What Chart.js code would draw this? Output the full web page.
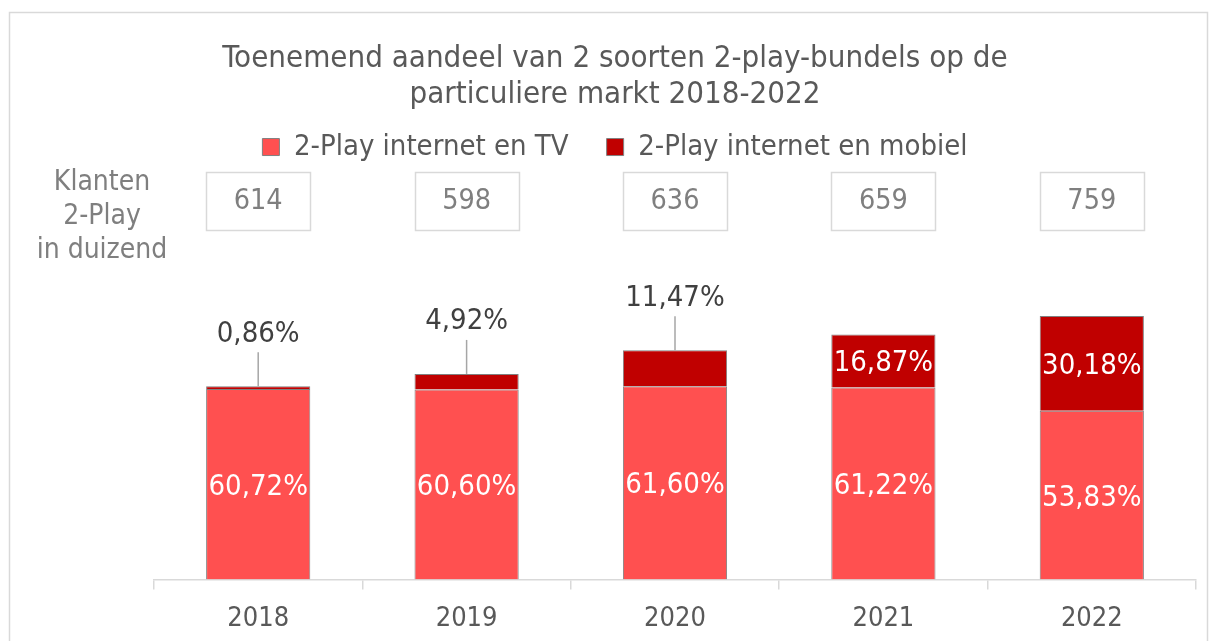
<!DOCTYPE html>
<html>
<head>
<meta charset="utf-8">
<script src="https://cdn.jsdelivr.net/npm/chart.js@4/dist/chart.umd.min.js"></script>
<style>
  html, body { margin: 0; padding: 0; background: #fff; }
  #wrap { width: 1214px; height: 641px; }
</style>
</head>
<body>
<div id="wrap"><canvas id="chart" width="1214" height="641"></canvas></div>
<script>
var FONT = '"DejaVu Sans Condensed", "DejaVu Sans", sans-serif';

var years = ['2018', '2019', '2020', '2021', '2022'];
var tvShare = [60.72, 60.60, 61.60, 61.22, 53.83];
var mobielShare = [0.86, 4.92, 11.47, 16.87, 30.18];
var klanten = [614, 598, 636, 659, 759];
var klantenLabel = ['Klanten', '2-Play', 'in duizend'];

function pct(v) {
    return v.toFixed(2).replace('.', ',') + '%';
}

// outer frame of the figure
var framePlugin = {
    id: 'frame',
    beforeDraw: function(chart) {
        var ctx = chart.ctx;
        ctx.save();
        ctx.strokeStyle = '#d9d9d9';
        ctx.lineWidth = 1.5;
        ctx.strokeRect(9.5, 12.5, 1198, 700);
        ctx.restore();
    }
};

// customer counts in boxes above each bar
var klantenPlugin = {
    id: 'klanten',
    afterDraw: function(chart) {
        var ctx = chart.ctx;
        var x = chart.scales.x;
        ctx.save();
        ctx.textAlign = 'center';
        ctx.textBaseline = 'middle';
        ctx.fillStyle = '#7f7f7f';
        ctx.font = '28px ' + FONT;
        klantenLabel.forEach(function(t, i) {
            ctx.fillText(t, 102, 183 + i * 34);
        });
        ctx.font = '28.5px ' + FONT;
        klanten.forEach(function(v, i) {
            var cx = x.getPixelForValue(i);
            ctx.strokeStyle = '#d9d9d9';
            ctx.lineWidth = 1.5;
            ctx.strokeRect(Math.round(cx - 52) + 0.5, 172.5, 104, 58);
            ctx.fillStyle = '#7f7f7f';
            ctx.fillText(String(v), cx, 202);
        });
        ctx.restore();
    }
};

// percentage labels, inside the segment or above it with a leader line
var labelPlugin = {
    id: 'segLabels',
    afterDatasetsDraw: function(chart) {
        var ctx = chart.ctx;
        ctx.save();
        ctx.textAlign = 'center';
        ctx.textBaseline = 'middle';
        ctx.font = '29px ' + FONT;
        chart.data.datasets.forEach(function(ds, di) {
            var meta = chart.getDatasetMeta(di);
            meta.data.forEach(function(bar, i) {
                var top = bar.y, base = bar.base;
                var h = base - top;
                var txt = pct(ds.data[i]);
                if (h > 45) {
                    ctx.fillStyle = '#ffffff';
                    ctx.fillText(txt, bar.x, (top + base) / 2 + 3);
                } else {
                    ctx.strokeStyle = '#a6a6a6';
                    ctx.lineWidth = 1.5;
                    ctx.beginPath();
                    ctx.moveTo(bar.x, top);
                    ctx.lineTo(bar.x, top - 34);
                    ctx.stroke();
                    ctx.fillStyle = '#404040';
                    ctx.fillText(txt, bar.x, top - 52);
                }
            });
        });
        ctx.restore();
    }
};

var ctx = document.getElementById('chart').getContext('2d');
var chart = new Chart(ctx, {
    type: 'bar',
    data: {
        labels: years,
        datasets: [{
            label: '2-Play internet en TV',
            data: tvShare,
            backgroundColor: '#ff5050',
            borderColor: '#808080',
            borderWidth: 1
        }, {
            label: '2-Play internet en mobiel',
            data: mobielShare,
            backgroundColor: '#c00000',
            borderColor: '#808080',
            borderWidth: 1
        }]
    },
    options: {
        responsive: false,
        animation: false,
        layout: {
            padding: { left: 34, right: 18, top: 0, bottom: -7 }
        },
        datasets: {
            bar: { barPercentage: 0.5, categoryPercentage: 1 }
        },
        scales: {
            x: {
                stacked: true,
                grid: {
                    offset: true,
                    drawOnChartArea: false,
                    color: '#d9d9d9',
                    lineWidth: 1.5,
                    tickLength: 10
                },
                border: { color: '#d9d9d9', width: 1.5 },
                ticks: {
                    color: '#595959',
                    font: { family: FONT, size: 27 },
                    padding: 13
                }
            },
            y: {
                stacked: true,
                display: true,
                min: 0,
                max: 130,
                grid: { display: false },
                border: { display: false },
                ticks: { display: false },
                afterFit: function(scale) { scale.width = 120; }
            }
        },
        plugins: {
            title: {
                display: true,
                text: ['Toenemend aandeel van 2 soorten 2-play-bundels op de', 'particuliere markt 2018-2022'],
                color: '#595959',
                font: { family: FONT, size: 31, weight: 'normal', lineHeight: 1.17 },
                padding: { top: 41, bottom: -19 }
            },
            legend: {
                display: true,
                labels: {
                    color: '#595959',
                    font: { family: FONT, size: 29 },
                    boxWidth: 17,
                    boxHeight: 17,
                    padding: 38
                }
            },
            tooltip: { enabled: false }
        }
    },
    plugins: [framePlugin, klantenPlugin, labelPlugin]
});
</script>
</body>
</html>
